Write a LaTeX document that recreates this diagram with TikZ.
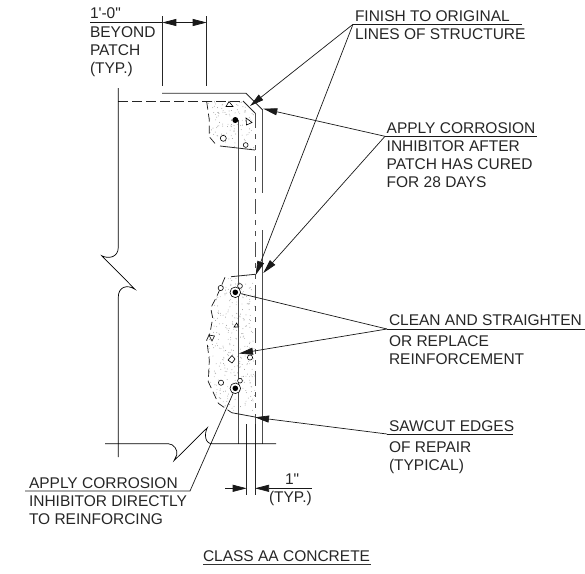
\documentclass[tikz,border=0pt]{standalone}
\usepackage{fontspec}
\newfontfamily\cadfont{Liberation Sans}
\usetikzlibrary{arrows.meta}
\begin{document}
\begin{tikzpicture}[x=1pt,y=-1pt,
  >={Stealth[length=14pt,width=7pt,inset=0pt]}, %
  inner sep=0pt, outer sep=0pt,%
  line/.style={line width=1.1pt,black!70},
  thin line/.style={line width=0.8pt,black!85},
  leader/.style={line width=0.7pt,black!90},
  brk/.style={line width=0.7pt,black},
  hidden/.style={line width=0.9pt,black!85,dash pattern=on 10pt off 4pt},
  chain/.style={line width=1pt,black!70,dash pattern=on 15pt off 6pt on 5pt off 6pt on 5pt off 6pt},
  hiddenpatch/.style={line width=0.7pt,black!90,dash pattern=on 8pt off 4pt},
  txt/.style={anchor=base west,font=\cadfont\fontsize{15.5}{15.5}\selectfont,text=black!85},
  stone/.style={line width=0.6pt,black,fill=white},
  bar/.style={circle,draw=black,line width=0.6pt,fill=white,minimum size=10.6pt}]

\useasboundingbox (0,0) rectangle (585,573);

% patches
\begin{scope}
\clip (207,101)--(243,101)--(255,113)--(255,150)--(220,146)--(215,144)--(209,136)--(209,120)--cycle;
\pgfmathsetseed{11}
\foreach \i in {1,...,130} {
  \fill[black!40] ({207+48*rnd},{101+49*rnd}) circle (0.45pt);
}
\end{scope}
\begin{scope}
\clip (231,276.7)--(255,274.3)--(255,416.7)--(231.7,412.7)--(218.3,403.3)--(208.3,381.7)--(209.3,360)--(206.7,340)--(210,333)--(212.7,318)--(210.7,308)--(216.7,296.7)--(225,277.3)--cycle;
\pgfmathsetseed{23}
\foreach \i in {1,...,380} {
  \fill[black!40] ({206+50*rnd},{274+143*rnd}) circle (0.45pt);
}
\end{scope}

% structure
\draw[thin line] (162,93.3)--(246,93.3)--(262.8,110);
\draw[line] (262.8,110)--(262.8,193);
\draw[line] (262.8,230)--(262.8,443.7);
\draw[hidden] (118.3,101)--(243,101);
\draw[thin line] (243,101)--(255,113);
\draw[chain] (255,113)--(255,424);
\draw[line] (238.7,120)--(238.7,443.7);
\draw[thin line] (255,424)--(255,495);
\draw[thin line] (246.7,424)--(246.7,495);

% break lines
\draw[brk] (118.3,88)--(118.3,247) .. controls (118.3,258) and (108,259) .. (101.7,255.7)
  --(135,289.3) .. controls (127,284) and (118.3,287) .. (118.3,297)--(118.3,457);
\draw[brk] (105,443.7)--(168.3,443.7) .. controls (174,444) and (178,450) .. (176.7,455)
  --(174,460.7)--(207.3,427.7) .. controls (204,434) and (205,443.7) .. (212,443.7)--(276,443.7);

% patch edges
\draw[hiddenpatch] (206.7,101.7)--(209.3,120)--(209.3,136.7)--(215.7,144.3);
\draw[thin line] (220,146)--(255,150);
\draw[thin line] (231,276.7)--(255,274.3);
\draw[hiddenpatch] (225,277.3)--(216.7,296.7)--(210.7,308)--(212.7,318)--(210,333)--(206.7,340)--(209.3,360)--(208.3,381.7)--(218.3,403.3)--(231.7,412.7);
\draw[thin line] (231.7,412.7)--(255,417);

% stones
\draw[stone] (229,101.5)--(233,106.5)--(226,106.5)--cycle;
\draw[stone] (246,118)--(252,122.5)--(246.5,125)--cycle;
\draw[stone] (223.3,138.3) circle (3pt);
\draw[stone] (245.7,145) circle (2.4pt);
\fill[black] (235.3,120) circle (3pt);
\draw[stone] (220.7,288) circle (2.6pt);
\draw[stone] (240,286) circle (2.4pt);
\draw[stone] (236.7,323)--(238.5,327)--(234,327)--cycle;
\draw[stone] (209,335)--(214.5,336)--(212,341)--cycle;
\draw[stone] (232,355.5)--(235,359)--(232,363)--(228,360)--cycle;
\draw[stone] (250,357.5) circle (2.6pt);
\draw[stone] (221,382.7) circle (2.6pt);
\draw[stone] (240,380.7) circle (2.4pt);

% rebars
\node[bar] (bar top) at (235.3,292.3) {};
\node[bar] (bar low) at (235.3,388.3) {};
\fill[black] (bar top.center) circle (2.8pt);
\fill[black] (bar low.center) circle (2.8pt);

% dimensions
\coordinate (dim a) at (162.3,22.5);
\coordinate (dim b) at (206.7,22.5);
\draw[thin line] (dim a |- 0,16)--(dim a |- 0,86);
\draw[thin line] (dim b |- 0,16)--(dim b |- 0,86);
\draw[leader] (90,22.5)--(dim a);
\draw[leader,<->] (dim a)--(dim b);
\coordinate (dim c) at (246.7,488.3);
\coordinate (dim d) at (255,488.3);
\draw[leader,->] (225,488.3)--(dim c);
\draw[leader,->] (311.7,488.3)--(dim d);

\node[txt] (dim one) at (90,18.5) {1'-0"};
\node[txt] (beyond) at (90,37) {BEYOND};
\node[txt] (patch) at (90,55) {PATCH};
\node[txt] (typ a) at (90,73) {(TYP.)};
\node[txt] (inch) at (285,484.7) {1"};
\node[txt] (typ b) at (269,502.7) {(TYP.)};

% labels
\coordinate (shelf a) at (353,24.3);
\coordinate (tip a) at (250,106);
\coordinate (tip b) at (255.7,275);
\draw[leader] (shelf a)--(522,24.3);
\draw[leader,->] (shelf a)--(tip a);
\draw[leader,->] (shelf a)--(tip b);
\node[txt] (finish) at (355,21) {FINISH TO ORIGINAL};
\node[txt] (lines) at (355,39) {LINES OF STRUCTURE};

\coordinate (shelf b) at (385,136.3);
\coordinate (tip c) at (263.3,108.7);
\coordinate (tip d) at (263.3,273);
\draw[leader] (shelf b)--(536.7,136.3);
\draw[leader,->] (shelf b)--(tip c);
\draw[leader,->] (shelf b)--(tip d);
\node[txt] (apply a) at (386.7,133) {APPLY CORROSION};
\node[txt] (inhibitor a) at (386.7,151) {INHIBITOR AFTER};
\node[txt] (cured) at (386.7,169) {PATCH HAS CURED};
\node[txt] (days) at (386.7,187) {FOR 28 DAYS};

\coordinate (shelf c) at (387,329);
\coordinate (tip e) at (239,353.5);
\draw[leader] (shelf c)--(585,329);
\draw[leader] (shelf c)--(bar top);
\draw[leader,->] (shelf c)--(tip e);
\node[txt] (clean) at (389,325.5) {CLEAN AND STRAIGHTEN};
\node[txt] (replace) at (389,346) {OR REPLACE};
\node[txt] (reinf) at (389,364) {REINFORCEMENT};

\coordinate (shelf d) at (387,434);
\coordinate (tip f) at (255,417.3);
\draw[leader] (shelf d)--(513,434);
\draw[leader,->] (shelf d)--(tip f);
\node[txt] (sawcut) at (389,431) {SAWCUT EDGES};
\node[txt] (repair) at (389,452) {OF REPAIR};
\node[txt] (typical) at (389,470) {(TYPICAL)};

\coordinate (shelf e) at (190,491);
\draw[leader] (25,491)--(shelf e)--(bar low);
\node[txt] (apply b) at (29,488) {APPLY CORROSION};
\node[txt] (inhibitor b) at (29,506) {INHIBITOR DIRECTLY};
\node[txt] (reinforcing) at (29,524) {TO REINFORCING};

% title
\node[txt] (title) at (203,561.7) {CLASS AA CONCRETE};
\draw[line width=1.1pt,black!80] (title.base west |- 0,564.5)--(371,564.5);

\end{tikzpicture}
\end{document}
